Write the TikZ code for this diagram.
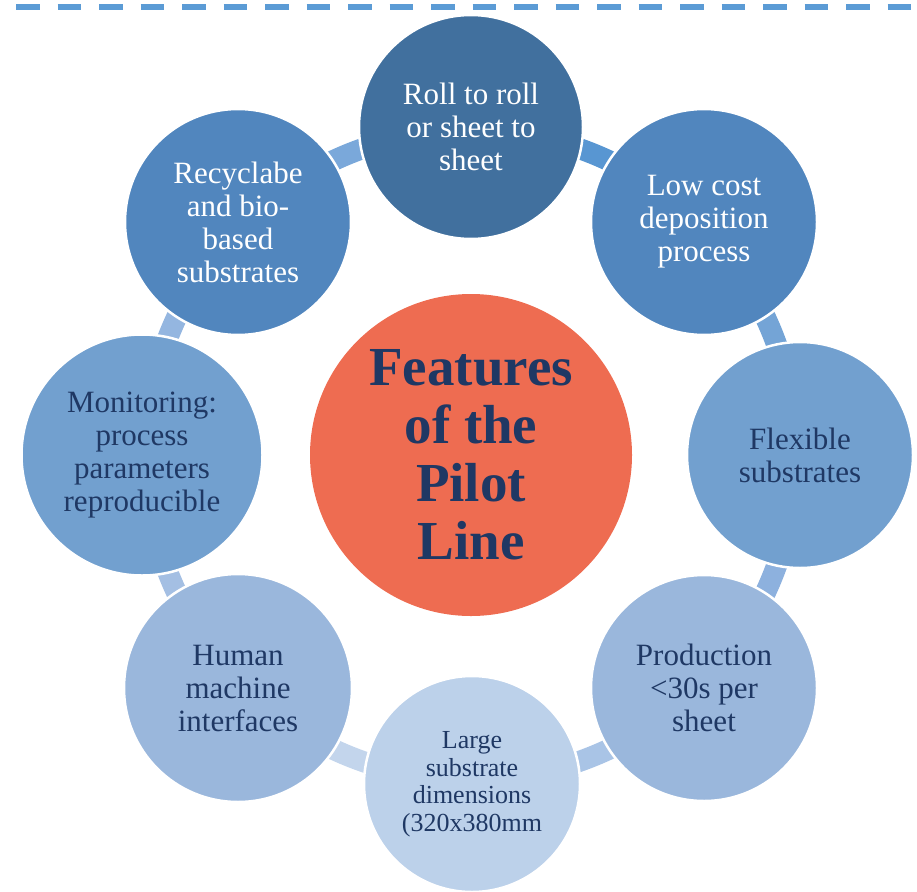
\documentclass[tikz,border=0pt]{standalone}
\usepackage{fontspec}
\setmainfont{Liberation Serif}
\usetikzlibrary{backgrounds}
\definecolor{cRoll}{HTML}{41709E}
\definecolor{cTwo}{HTML}{5186BE}
\definecolor{cThree}{HTML}{72A0CF}
\definecolor{cFour}{HTML}{9AB7DC}
\definecolor{cFive}{HTML}{BCD1EA}
\definecolor{cCenter}{HTML}{EE6C51}
\definecolor{navy}{HTML}{1F3864}
\definecolor{dashblue}{HTML}{5B9BD5}
\definecolor{kA}{HTML}{5896D2}
\definecolor{kB}{HTML}{74A4D6}
\definecolor{kC}{HTML}{8DB1DE}
\definecolor{kD}{HTML}{A9C4E6}
\definecolor{kE}{HTML}{C3D5EC}
\definecolor{kF}{HTML}{A4BFE3}
\definecolor{kG}{HTML}{94B6E0}
\definecolor{kH}{HTML}{7AA8DA}
\tikzset{
  bub/.style={circle, inner sep=0pt, draw=white, line width=2.5pt, align=center,
    text=navy, font=\fontsize{31}{33}\selectfont},
  band/.style={line width=21pt},
  dashline/.style={draw=dashblue, line width=6pt, dash pattern=on 23.5pt off 18pt, dash phase=25.5pt}
}
\begin{document}
\begin{tikzpicture}[x=1pt,y=-1pt]
\useasboundingbox (0,0) rectangle (917,891);
\draw[dashline] (0,7) -- (917,7);

\node[circle, inner sep=0pt, fill=cCenter, minimum size=322pt, align=center, text=navy,
  font=\bfseries\fontsize{55}{58}\selectfont] (c) at (471,455) {Features\\of the\\Pilot\\Line};

\node[bub, fill=cRoll, minimum size=224pt, text=white] (roll) at (471,127) {Roll to roll\\or sheet to\\sheet};
\node[bub, fill=cTwo, minimum size=226pt, text=white] (low) at (704,222) {Low cost\\deposition\\process};
\node[bub, fill=cThree, minimum size=226pt] (flex) at (800,455) {Flexible\\substrates};
\node[bub, fill=cFour, minimum size=226pt] (prod) at (704,688) {Production\\<30s per\\sheet};
\node[bub, fill=cFive, minimum size=216pt, font=\fontsize{26}{27.5}\selectfont] (large) at (472,784) {Large\\substrate\\dimensions\\(320x380mm};
\node[bub, fill=cFour, minimum size=228pt] (hum) at (238,688) {Human\\machine\\interfaces};
\node[bub, fill=cThree, minimum size=241pt] (mon) at (142,455) {Monitoring:\\process\\parameters\\reproducible};
\node[bub, fill=cTwo, minimum size=226pt, text=white] (rec) at (238,222) {Recyclabe\\and bio-\\based\\substrates};

\begin{pgfonlayer}{background}
\foreach \a/\b/\col in {-90/-45/kA, -45/0/kB, 0/45/kC, 45/90/kD, 90/135/kE, 135/180/kF, 180/225/kG, 225/270/kH}{
  \draw[band, draw=\col, shift={(c)}] plot[domain=\a:\b, samples=40] (\x:325);
}
\end{pgfonlayer}
\end{tikzpicture}
\end{document}
